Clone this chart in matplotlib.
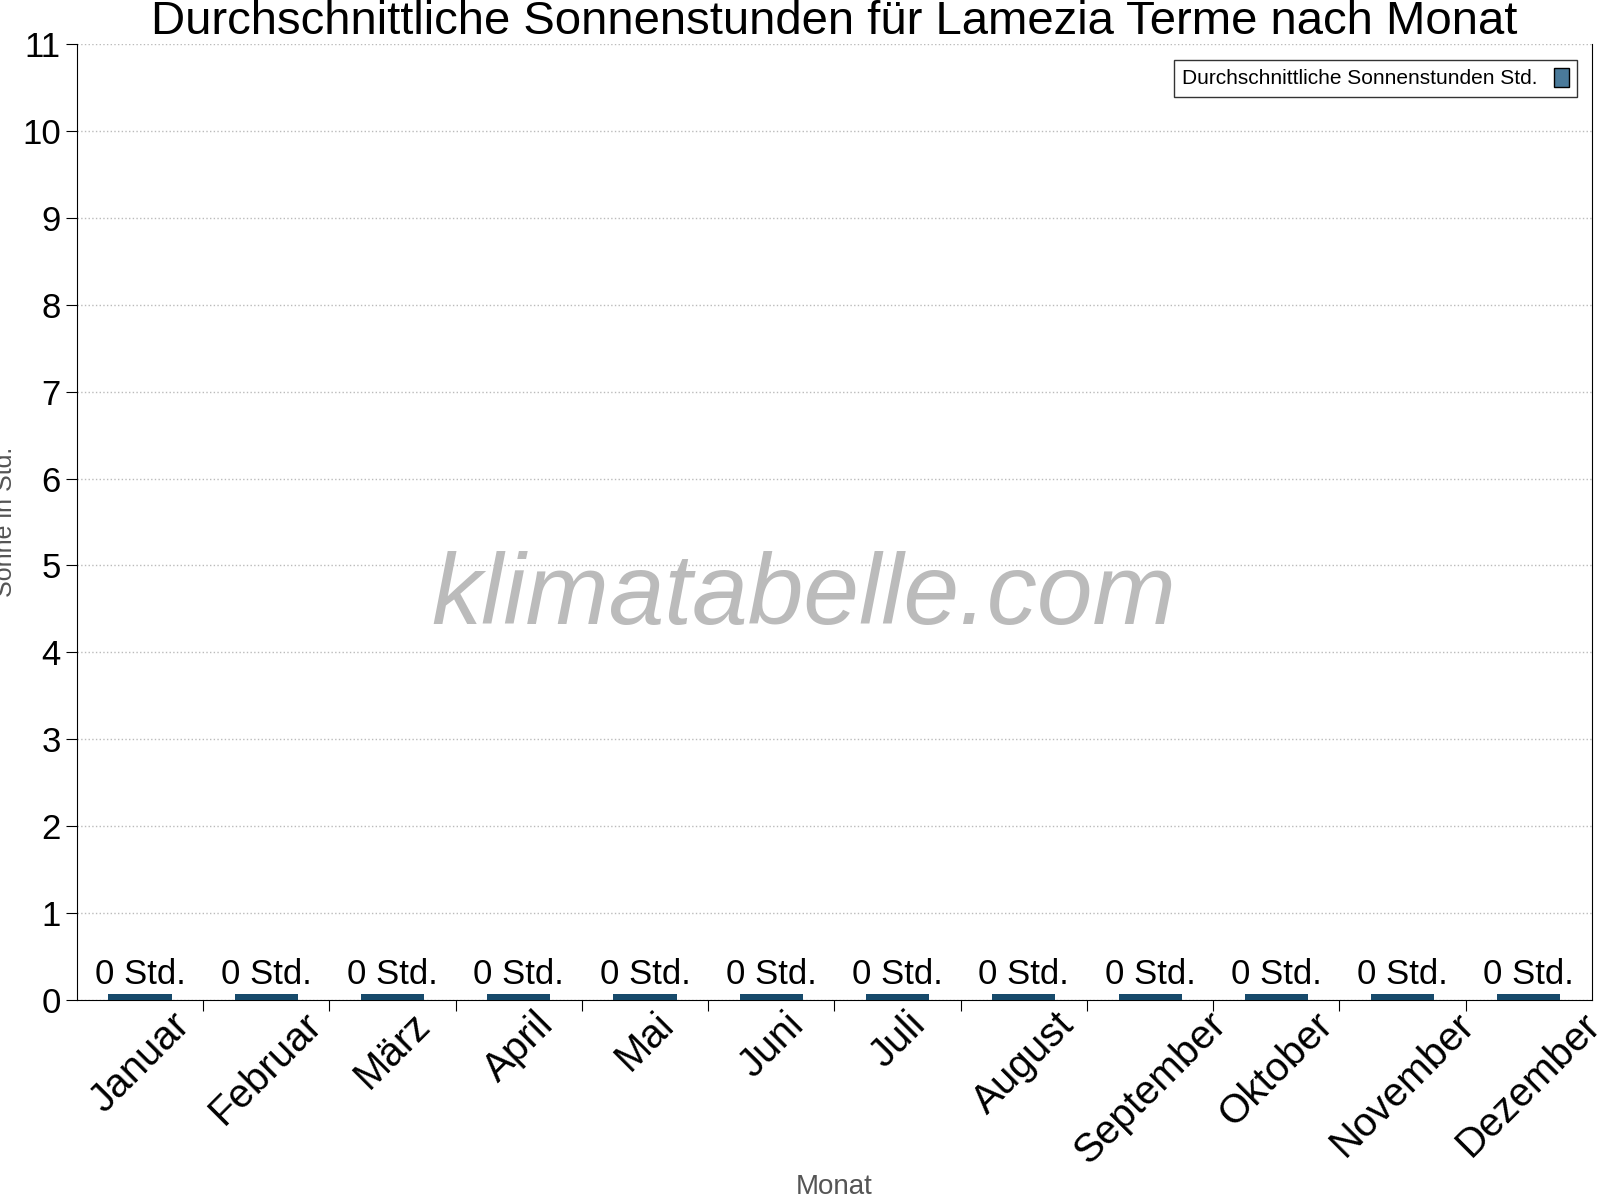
import matplotlib
matplotlib.use("Agg")
import matplotlib.pyplot as plt
from matplotlib.patches import Patch

plt.rcParams['font.family'] = ['Liberation Sans', 'DejaVu Sans']

months = ["Januar", "Februar", "März", "April", "Mai", "Juni", "Juli",
          "August", "September", "Oktober", "November", "Dezember"]
sun_hours = [0, 0, 0, 0, 0, 0, 0, 0, 0, 0, 0, 0]
labels = [f"{v} Std." for v in sun_hours]

fig = plt.figure(figsize=(16, 12), dpi=100)
ax = fig.add_axes([0.048, 0.167, 0.947, 0.796])

x = list(range(len(months)))
min_vis = 0.07
heights = [max(v, min_vis) for v in sun_hours]
ax.bar(x, heights, width=0.5, color="#174a6b", zorder=3)
for xi, v, lab in zip(x, heights, labels):
    ax.text(xi, v + 0.03, lab, ha="center", va="bottom", fontsize=25, zorder=4)

ax.set_xlim(-0.5, len(months) - 0.5)
ax.set_ylim(0, 11)
ax.set_yticks(range(0, 12))
ax.tick_params(axis="y", labelsize=25, length=8)
ax.set_xticks([i + 0.5 for i in x[:-1]], minor=False)
ax.set_xticklabels([])
ax.set_xticks(x, minor=True)
ax.set_xticklabels(months, minor=True, rotation=45, fontsize=29, ha="center", va="top")
ax.tick_params(axis="x", which="major", length=8)
ax.tick_params(axis="x", which="minor", length=0, pad=4)
ax.grid(axis="y", linestyle=":", color="#bbbbbb", linewidth=1)
ax.spines["top"].set_visible(False)
ax.set_ylabel("Sonne in Std.", fontsize=18, color="#555555", labelpad=4)
ax.set_xlabel("Monat", fontsize=20, color="#555555", labelpad=2)
ax.set_title("Durchschnittliche Sonnenstunden für Lamezia Terme nach Monat",
             fontsize=34, pad=0)

ax.text(0.48, 0.42, "klimatabelle.com", transform=ax.transAxes, ha="center",
        va="center", fontsize=72, style="italic", color="#bbbbbb", zorder=1)

ax.legend(handles=[Patch(facecolor="#4a7a9a", edgecolor="black")],
          labels=["Durchschnittliche Sonnenstunden Std."],
          loc="upper right", fontsize=15, markerfirst=False,
          fancybox=False, edgecolor="black", handlelength=0.7,
          handleheight=1.0, bbox_to_anchor=(0.997, 0.995))

fig.savefig("out.png")
